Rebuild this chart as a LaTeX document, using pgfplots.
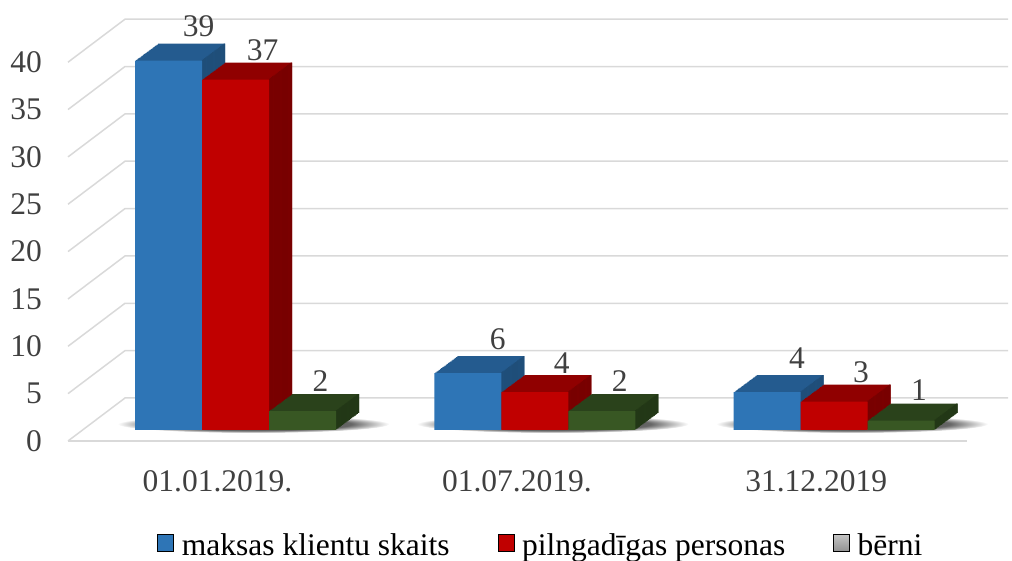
\documentclass[border=0pt]{standalone}
\usepackage{fontspec}
\setmainfont{Liberation Serif}
\usepackage{pgfplots}
\usepackage{pgfplotstable}
\pgfplotsset{compat=1.18}

\definecolor{bfront}{HTML}{2E75B6}
\definecolor{btop}{HTML}{245B8F}
\definecolor{bside}{HTML}{1F4E79}
\definecolor{rfront}{HTML}{C00000}
\definecolor{rtop}{HTML}{900000}
\definecolor{rside}{HTML}{780000}
\definecolor{gfront}{HTML}{385723}
\definecolor{gtop}{HTML}{2A421B}
\definecolor{gside}{HTML}{223716}
\definecolor{gridc}{HTML}{D9D9D9}
\definecolor{txt}{HTML}{404040}

\pgfdeclareradialshading{shadowfade}{\pgfpoint{0bp}{0bp}}{color(0bp)=(black!75); color(18bp)=(black!60); color(25bp)=(white); color(50bp)=(white)}

\pgfplotstableread{
x a b c
0 39 37 2
1 6 4 2
2 4 3 1
}\data

\begin{document}
\begin{tikzpicture}
\begin{axis}[
  at={(55.92pt,131pt)}, anchor=south west,
  scale only axis, width=957.76pt, height=378.8pt,
  xmin=-0.6, xmax=2.6, ymin=0, ymax=40,
  enlargelimits=false, clip=false,
  axis line style={draw=none},
  major tick length=0pt,
  ytick={0,5,...,40},
  xtick={-0.06,0.94,1.94},
  xticklabels={01.01.2019.,01.07.2019.,31.12.2019},
  tick label style={font=\fontsize{31.5}{36}\selectfont, text=txt},
  yticklabel style={anchor=east, inner sep=0pt, xshift=-13.9pt, yshift=-11pt},
  xticklabel style={anchor=base, inner sep=0pt, yshift=-62pt},
  /pgf/number format/assume math mode=true,
  legend style={at={(0.5054,-0.3036)}, anchor=center, draw=none, fill=none,
    legend columns=3, font=\fontsize{31.5}{36}\selectfont, text=black,
    nodes={inner xsep=0pt},
    /tikz/every odd column/.append style={column sep=8pt},
    /tikz/every even column/.append style={column sep=48pt}},
  legend cell align=left,
  legend image code/.code={\path[#1] (0pt,-6pt) rectangle (16pt,11pt);},
]
% shadows
\pgfplotsinvokeforeach{0,1,2}{
  \shade[shading=shadowfade] ([xshift=18pt,yshift=6pt]axis cs:#1,0) ellipse [x radius=136pt, y radius=9pt];
}
% grid
\pgfplotsinvokeforeach{0,5,...,40}{
  \draw[gridc, line width=1.5pt] ([yshift=-11pt]axis cs:-0.5596,#1) -- ([yshift=32pt]axis cs:-0.3692,#1) -- ([yshift=32pt]axis cs:2.581,#1);
}
\draw[gridc, line width=1.5pt] ([yshift=-11pt]axis cs:-0.5596,0) -- ([yshift=-11pt]axis cs:2.444,0);

% blue series
\pgfplotsinvokeforeach{1,...,20}{
  \addplot[ybar, bar width=67pt, bar shift=-67pt, fill=btop, draw=none, forget plot, xshift={#1*1.15pt}, yshift={#1*0.85pt}] table[x=x,y=a]{\data};
}
\pgfplotsinvokeforeach{1,...,20}{
  \addplot[ybar, bar width=1.4pt, bar shift=-34.2pt, fill=bside, draw=none, forget plot, xshift={#1*1.15pt}, yshift={#1*0.85pt}] table[x=x,y=a]{\data};
}
\addplot[ybar, bar width=67pt, bar shift=-67pt, fill=bfront, draw=none, forget plot,
  nodes near coords, every node near coord/.append style={font=\fontsize{31.5}{36}\selectfont, text=txt, anchor=center, xshift=-37pt, yshift=34pt}] table[x=x,y=a]{\data};

% red series
\pgfplotsinvokeforeach{1,...,20}{
  \addplot[ybar, bar width=67pt, bar shift=0pt, fill=rtop, draw=none, forget plot, xshift={#1*1.15pt}, yshift={#1*0.85pt}] table[x=x,y=b]{\data};
}
\pgfplotsinvokeforeach{1,...,20}{
  \addplot[ybar, bar width=1.4pt, bar shift=32.8pt, fill=rside, draw=none, forget plot, xshift={#1*1.15pt}, yshift={#1*0.85pt}] table[x=x,y=b]{\data};
}
\addplot[ybar, bar width=67pt, bar shift=0pt, fill=rfront, draw=none, forget plot,
  nodes near coords, every node near coord/.append style={font=\fontsize{31.5}{36}\selectfont, text=txt, anchor=center, xshift=27pt, yshift=29pt}] table[x=x,y=b]{\data};

% green series
\pgfplotsinvokeforeach{1,...,20}{
  \addplot[ybar, bar width=67pt, bar shift=67pt, fill=gtop, draw=none, forget plot, xshift={#1*1.15pt}, yshift={#1*0.85pt}] table[x=x,y=c]{\data};
}
\pgfplotsinvokeforeach{1,...,20}{
  \addplot[ybar, bar width=1.4pt, bar shift=99.8pt, fill=gside, draw=none, forget plot, xshift={#1*1.15pt}, yshift={#1*0.85pt}] table[x=x,y=c]{\data};
}
\addplot[ybar, bar width=67pt, bar shift=67pt, fill=gfront, draw=none, forget plot,
  nodes near coords, every node near coord/.append style={font=\fontsize{31.5}{36}\selectfont, text=txt, anchor=center, xshift=85pt, yshift=30pt}] table[x=x,y=c]{\data};

\addlegendimage{fill=bfront}
\addlegendentry{maksas klientu skaits}
\addlegendimage{fill=rfront}
\addlegendentry{pilngadīgas personas}
\addlegendimage{top color=gray!45, bottom color=gray!85}
\addlegendentry{bērni}
\end{axis}
\pgfresetboundingbox
\path (0,0) rectangle (1012pt,561pt);
\end{tikzpicture}
\end{document}
